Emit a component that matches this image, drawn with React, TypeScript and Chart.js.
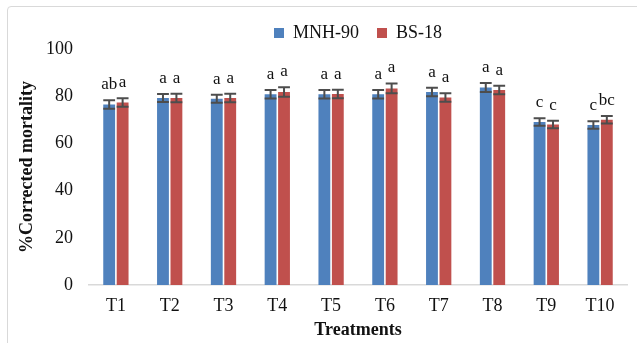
import React, { useEffect, useRef } from "react";
import { Chart, registerables } from "chart.js";

Chart.register(...registerables);

const categories = ["T1", "T2", "T3", "T4", "T5", "T6", "T7", "T8", "T9", "T10"];
const mnh90 = [76.5, 79.2, 78.9, 80.8, 80.8, 80.8, 81.8, 83.7, 69.1, 67.8];
const bs18 = [77.3, 79.2, 79.2, 81.8, 80.9, 83.3, 79.4, 82.6, 68.0, 70.0];
const mnh90Err = [1.8, 1.7, 1.7, 1.8, 1.8, 1.8, 1.8, 1.9, 1.6, 1.6];
const bs18Err = [1.8, 1.8, 1.8, 2.0, 1.8, 2.1, 1.8, 1.8, 1.6, 1.6];
const mnh90Letters = ["ab", "a", "a", "a", "a", "a", "a", "a", "c", "c"];
const bs18Letters = ["a", "a", "a", "a", "a", "a", "a", "a", "c", "bc"];
const yTicks = [0, 20, 40, 60, 80, 100];

const FONT = "'Liberation Serif', 'Times New Roman', serif";

const errorBarPlugin = {
  id: "errorBars",
  afterDatasetsDraw(chart: any) {
    const ctx = chart.ctx;
    const yScale = chart.scales.y;
    const errs = [mnh90Err, bs18Err];
    const letters = [mnh90Letters, bs18Letters];
    chart.data.datasets.forEach((ds: any, di: number) => {
      const meta = chart.getDatasetMeta(di);
      meta.data.forEach((bar: any, i: number) => {
        const v = ds.data[i];
        const e = errs[di][i];
        const x = bar.x;
        const w = bar.width;
        const yt = yScale.getPixelForValue(v + e);
        const yb = yScale.getPixelForValue(v - e);
        ctx.save();
        ctx.strokeStyle = "#4d4d4d";
        ctx.lineWidth = 2;
        ctx.beginPath();
        ctx.moveTo(x, yt);
        ctx.lineTo(x, yb);
        ctx.moveTo(x - w / 2, yt);
        ctx.lineTo(x + w / 2, yt);
        ctx.moveTo(x - w / 2, yb);
        ctx.lineTo(x + w / 2, yb);
        ctx.stroke();
        ctx.fillStyle = "#111";
        ctx.font = `17px ${FONT}`;
        ctx.textAlign = "center";
        ctx.textBaseline = "alphabetic";
        ctx.fillText(letters[di][i], x, yt - 11);
        ctx.restore();
      });
    });
  },
};

const legendFixPlugin = {
  id: "legendFix",
  beforeInit(chart: any) {
    const lg = chart.legend;
    if (lg && !lg.__patched) {
      const orig = lg.fit.bind(lg);
      lg.fit = function () {
        orig();
        this.height = 43;
      };
      lg.__patched = true;
    }
  },
};

export default function App() {
  const ref = useRef<HTMLCanvasElement | null>(null);
  useEffect(() => {
    if (!ref.current) return;
    const chart = new Chart(ref.current, {
      type: "bar",
      data: {
        labels: categories,
        datasets: [
          {
            label: "MNH-90",
            data: mnh90,
            backgroundColor: "#4F81BD",
            categoryPercentage: 0.5,
            barPercentage: 0.88,
          },
          {
            label: "BS-18",
            data: bs18,
            backgroundColor: "#C0504D",
            categoryPercentage: 0.5,
            barPercentage: 0.88,
          },
        ],
      },
      options: {
        animation: false,
        responsive: false,
        layout: { padding: { left: 0, right: 10, top: 6, bottom: 0 } },
        plugins: {
          legend: {
            display: true,
            position: "top",
            fullSize: false,
            labels: {
              boxWidth: 10,
              boxHeight: 10,
              padding: 18,
              color: "#111",
              font: { family: FONT, size: 18 },
            },
          },
          tooltip: { enabled: false },
        },
        scales: {
          x: {
            grid: { display: false, drawTicks: false },
            border: { display: true, color: "#d9d9d9", width: 1.5 },
            ticks: { color: "#111", padding: 10, font: { family: FONT, size: 18 } },
            title: {
              display: true,
              text: "Treatments",
              color: "#111",
              font: { family: FONT, size: 18, weight: "bold" },
              padding: { top: 0, bottom: 2 },
            },
            afterFit(scale: any) {
              scale.height = 58;
            },
          },
          y: {
            min: 0,
            max: 100,
            afterBuildTicks(scale: any) {
              scale.ticks = yTicks.map((v) => ({ value: v }));
            },
            grid: { display: false, drawTicks: false },
            border: { display: false },
            ticks: { color: "#111", padding: 16, font: { family: FONT, size: 18 } },
            title: {
              display: true,
              text: "%Corrected mortality",
              color: "#111",
              font: { family: FONT, size: 18, weight: "bold" },
              padding: { top: 17, bottom: 0 },
            },
            afterFit(scale: any) {
              scale.width = 89;
            },
          },
        },
      },
      plugins: [legendFixPlugin, errorBarPlugin],
    });
    return () => chart.destroy();
  }, []);

  return (
    <div
      style={{
        position: "fixed",
        left: 0,
        top: 0,
        width: 637,
        height: 343,
        overflow: "hidden",
        background: "#fff",
      }}
    >
      <div
        style={{
          position: "absolute",
          left: 7,
          top: 6,
          width: 680,
          height: 400,
          border: "1px solid #d9d9d9",
          borderRadius: 4,
          boxSizing: "border-box",
        }}
      />
      <canvas
        ref={ref}
        width={637}
        height={343}
        style={{ position: "absolute", left: 0, top: 0, width: 637, height: 343 }}
      />
    </div>
  );
}
